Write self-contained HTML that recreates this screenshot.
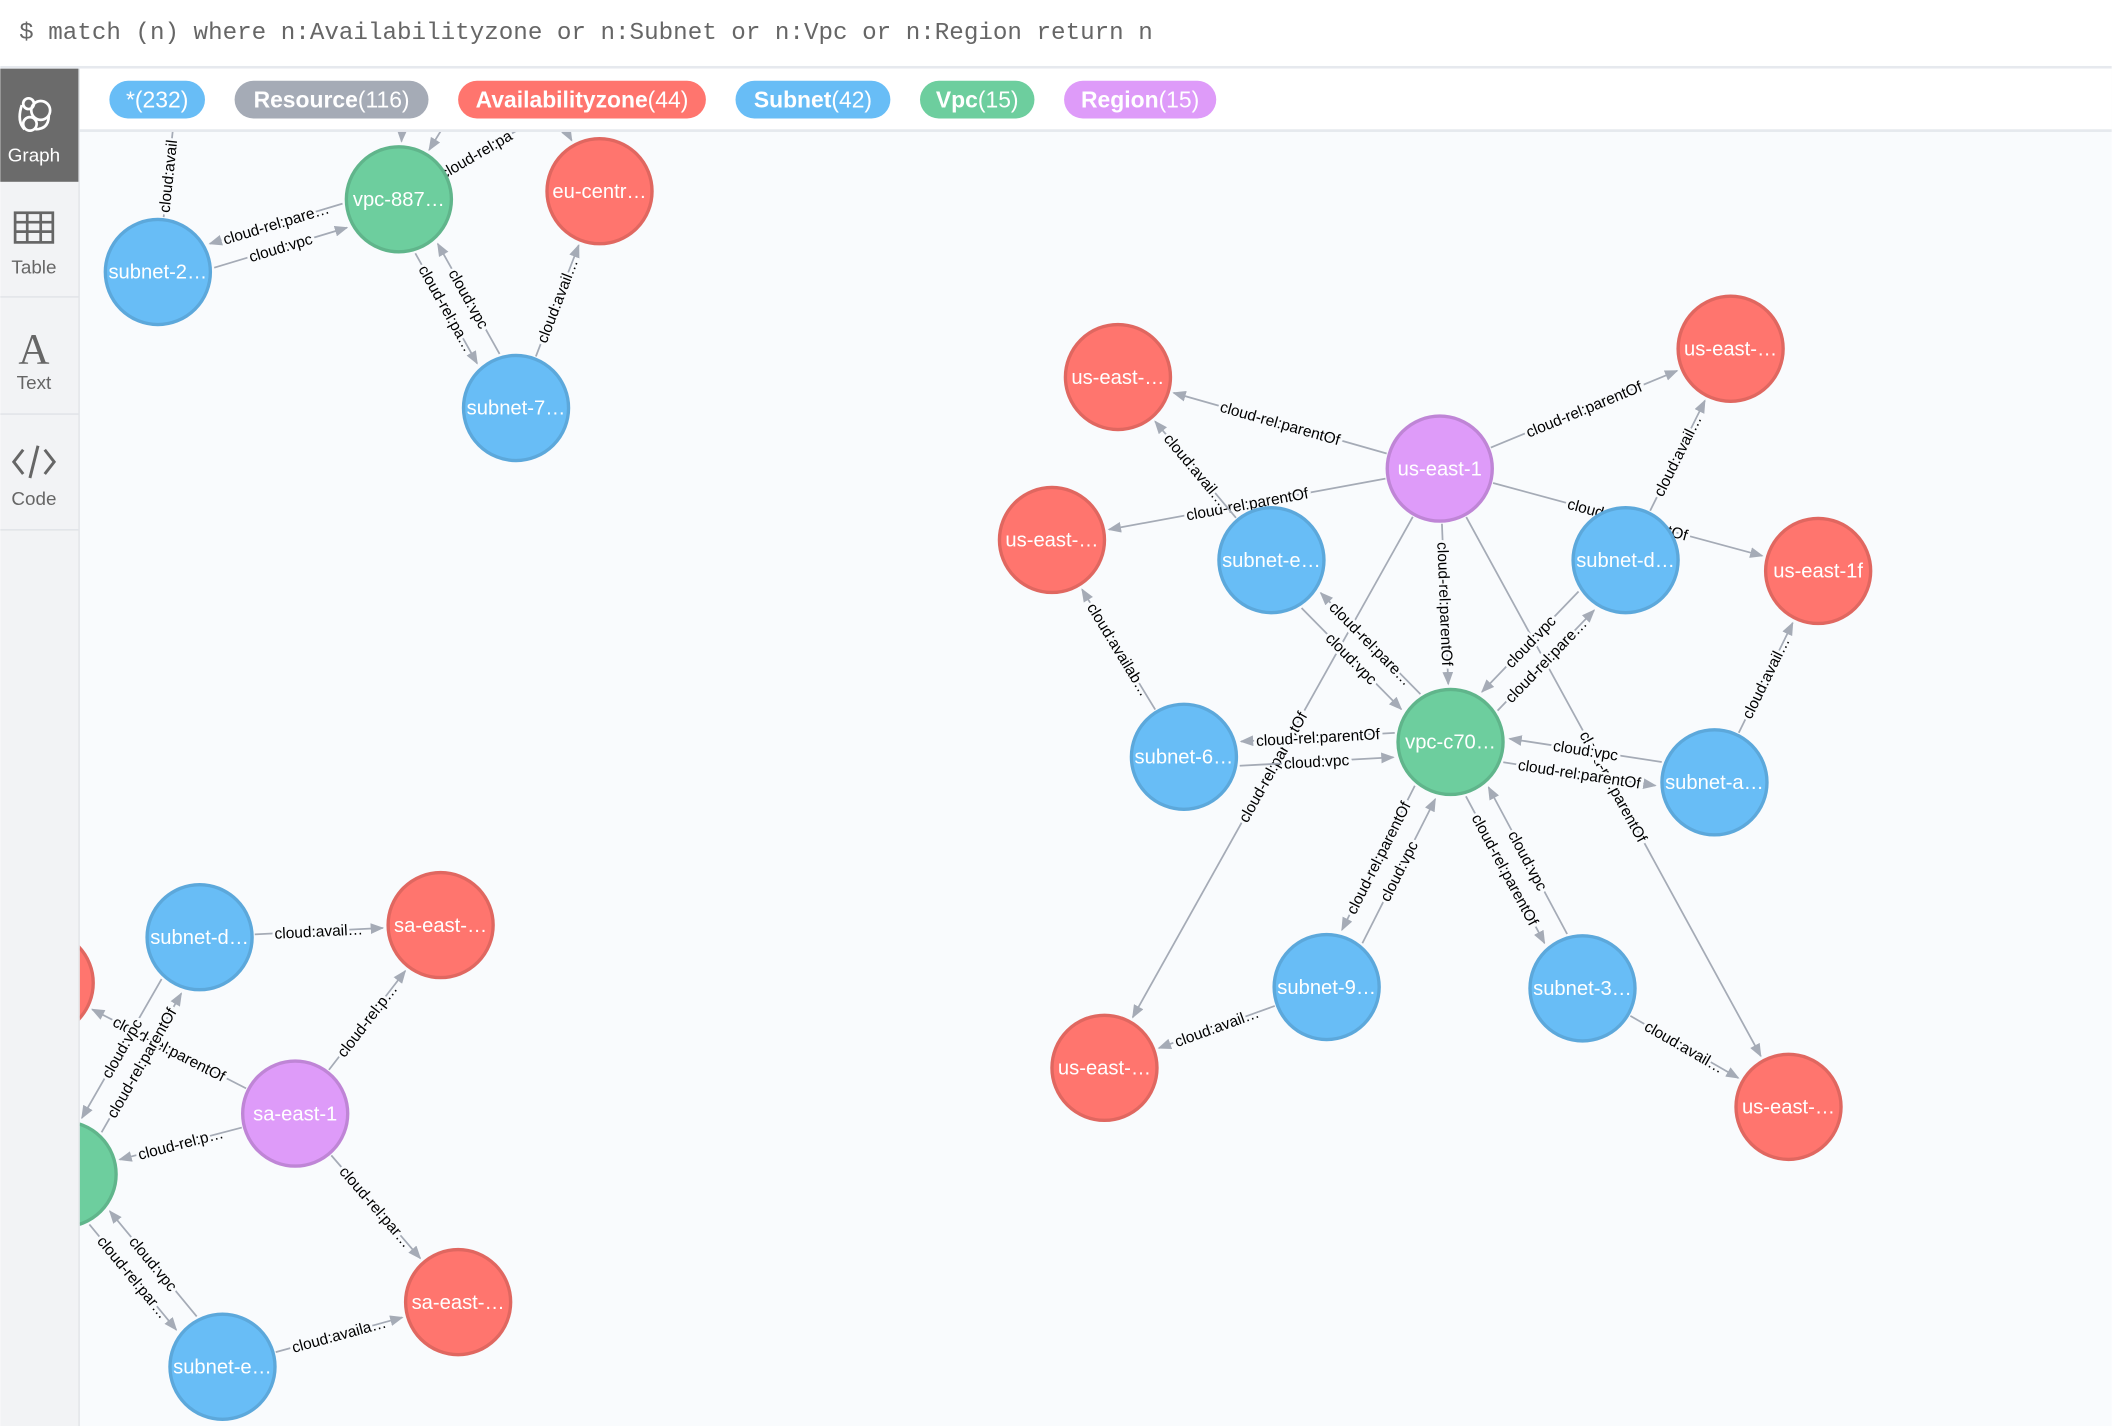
<!DOCTYPE html>
<html><head><meta charset="utf-8"><style>
html,body{margin:0;padding:0;background:#fff;width:2112px;height:1426px;overflow:hidden}
svg{display:block}
</style></head><body>
<svg id="s" width="2112" height="1426" viewBox="0 0 1568 1059" xmlns="http://www.w3.org/2000/svg" font-family="Liberation Sans, sans-serif">
<defs><marker id="ar" markerWidth="10" markerHeight="8" refX="9" refY="4" orient="auto" markerUnits="userSpaceOnUse"><path d="M0,0 L10,4 L0,8 z" fill="#a5abb6"/></marker>
<clipPath id="cv"><rect x="59" y="51" width="1509" height="1008"/></clipPath></defs>
<rect x="0" y="0" width="1568" height="1059" fill="#fff"/>
<text x="14" y="29" font-family="Liberation Mono, monospace" font-size="18" fill="#666">$ match (n) where n:Availabilityzone or n:Subnet or n:Vpc or n:Region return n</text>
<rect x="0" y="49" width="1568" height="2" fill="#e6e9ee"/>
<rect x="58" y="51" width="1510" height="1008" fill="#f9fbfd"/>
<g id="edges" clip-path="url(#cv)"></g>
<g id="nodes" clip-path="url(#cv)"></g>
<rect x="58" y="51" width="1510" height="46" fill="#fff"/>
<rect x="58" y="96" width="1510" height="2" fill="#e6e9ee"/>
<g font-size="17" fill="#fff">
<rect x="81" y="60" width="71" height="28" rx="14" fill="#68bdf6"/><text x="116.5" y="80" text-anchor="middle">*(232)</text>
<rect x="174" y="60" width="144" height="28" rx="14" fill="#a5abb6"/><text x="246" y="80" text-anchor="middle"><tspan font-weight="bold">Resource</tspan>(116)</text>
<rect x="340" y="60" width="184" height="28" rx="14" fill="#ff756e"/><text x="432" y="80" text-anchor="middle"><tspan font-weight="bold">Availabilityzone</tspan>(44)</text>
<rect x="546" y="60" width="115" height="28" rx="14" fill="#68bdf6"/><text x="603.5" y="80" text-anchor="middle"><tspan font-weight="bold">Subnet</tspan>(42)</text>
<rect x="683" y="60" width="85" height="28" rx="14" fill="#6dce9e"/><text x="725.5" y="80" text-anchor="middle"><tspan font-weight="bold">Vpc</tspan>(15)</text>
<rect x="790" y="60" width="113" height="28" rx="14" fill="#de9bf9"/><text x="846.5" y="80" text-anchor="middle"><tspan font-weight="bold">Region</tspan>(15)</text>
</g>
<rect x="0" y="51" width="58" height="1008" fill="#f2f3f5"/>
<rect x="58" y="51" width="1" height="1008" fill="#dfe2e6"/>
<rect x="0" y="51" width="58" height="84" fill="#6b6b6b"/>
<g fill="none" stroke="#fff" stroke-width="2"><circle cx="21" cy="77" r="4"/><circle cx="30" cy="82" r="7"/><circle cx="22" cy="92" r="5"/><path d="M16,78 Q12,90 18,96 M36,86 Q36,96 26,96"/></g>
<text x="25" y="120" text-anchor="middle" font-size="14" fill="#fff">Graph</text>
<rect x="0" y="220" width="58" height="1" fill="#dfe2e6"/><rect x="0" y="307" width="58" height="1" fill="#dfe2e6"/><rect x="0" y="393" width="58" height="1" fill="#dfe2e6"/>
<g fill="none" stroke="#666" stroke-width="2"><rect x="11" y="158" width="28" height="22"/><path d="M11,165 H39 M11,172 H39 M20,158 V180 M30,158 V180"/></g>
<text x="25" y="203" text-anchor="middle" font-size="14" fill="#666">Table</text>
<text x="25" y="270" text-anchor="middle" font-size="32" font-family="Liberation Serif, serif" fill="#666">A</text>
<text x="25" y="289" text-anchor="middle" font-size="14" fill="#666">Text</text>
<g fill="none" stroke="#666" stroke-width="2.2"><path d="M17,334 L10,343 L17,352 M33,334 L40,343 L33,352 M28,331 L22,355"/></g>
<text x="25" y="375" text-anchor="middle" font-size="14" fill="#666">Code</text>
</svg>
<script>
var N={
v887:[296,148,'g','vpc-887…'],euc:[445,142,'r','eu-centr…'],s2:[117,202,'b','subnet-2…'],s7:[383,303,'b','subnet-7…'],
t1:[300,60,'x',''],t2:[350,60,'x',''],t3:[400,60,'x',''],t4:[132,60,'x',''],t5:[430,70,'x',''],
ue1:[1069,348,'p','us-east-1'],r1:[830,280,'r','us-east-…'],r2:[1285,259,'r','us-east-…'],r3:[781,401,'r','us-east-…'],r4:[1350,424,'r','us-east-1f'],r5:[820,793,'r','us-east-…'],r6:[1328,822,'r','us-east-…'],
se:[944,416,'b','subnet-e…'],sd:[1207,416,'b','subnet-d…'],s6:[879,562,'b','subnet-6…'],vc:[1077,551,'g','vpc-c70…'],sa:[1273,581,'b','subnet-a…'],s9:[985,733,'b','subnet-9…'],s3:[1175,734,'b','subnet-3…'],
bsd:[148,696,'b','subnet-d…'],sae1:[327,687,'r','sa-east-…'],lr:[30,730,'r',''],sa1:[219,827,'p','sa-east-1'],lg:[47,872,'g','e…'],sae2:[340,967,'r','sa-east-…'],bse:[165,1015,'b','subnet-e…']};
var C={b:['#68bdf6','#5ca8db'],g:['#6dce9e','#60b58b'],r:['#ff756e','#e06760'],p:['#de9bf9','#bf85d6']};
var E=[
['s2','t4','cloud:avail',0.3],['v887','s2','cloud-rel:pare…'],['s2','v887','cloud:vpc'],['v887','s7','cloud-rel:pa…'],['s7','v887','cloud:vpc'],['s7','euc','cloud:avail…'],['t3','euc',''],['t1','v887',''],['t2','v887',''],['v887','t5','cloud-rel:pa',0.22],
['ue1','r1','cloud-rel:parentOf'],['ue1','r2','cloud-rel:parentOf'],['ue1','r3','cloud-rel:parentOf'],['ue1','r4','cloud-rel:parentOf'],['ue1','vc','cloud-rel:parentOf'],['ue1','r5','cloud-rel:parentOf'],['ue1','r6','cloud-rel:parentOf'],
['se','r1','cloud:avail…'],['sd','r2','cloud:avail…'],['s6','r3','cloud:availab…'],['sa','r4','cloud:avail…'],['s9','r5','cloud:avail…'],['s3','r6','cloud:avail…'],
['se','vc','cloud:vpc'],['vc','se','cloud-rel:pare…'],['vc','sd','cloud-rel:pare…'],['sd','vc','cloud:vpc'],['vc','s6','cloud-rel:parentOf'],['s6','vc','cloud:vpc'],['sa','vc','cloud:vpc'],['vc','sa','cloud-rel:parentOf'],['vc','s9','cloud-rel:parentOf'],['s9','vc','cloud:vpc'],['vc','s3','cloud-rel:parentOf'],['s3','vc','cloud:vpc'],
['bsd','sae1','cloud:avail…'],['sa1','sae1','cloud-rel:p…'],['sa1','lr','cloud-rel:parentOf'],['sa1','lg','cloud-rel:p…'],['sa1','sae2','cloud-rel:par…'],['bsd','lg','cloud:vpc'],['lg','bsd','cloud-rel:parentOf'],['bse','lg','cloud:vpc'],['lg','bse','cloud-rel:par…'],['bse','sae2','cloud:availa…']];
var ns='http://www.w3.org/2000/svg',eg=document.getElementById('edges'),ng=document.getElementById('nodes');
function mk(t,a,p){var e=document.createElementNS(ns,t);for(var k in a)e.setAttribute(k,a[k]);p.appendChild(e);return e;}
var pairs={};E.forEach(function(e){pairs[e[0]+'|'+e[1]]=1;});
E.forEach(function(e){
var a=N[e[0]],b=N[e[1]];var dx=b[0]-a[0],dy=b[1]-a[1],L=Math.hypot(dx,dy),ux=dx/L,uy=dy/L;
var off=0;if(pairs[e[1]+'|'+e[0]])off=9;
var px=-uy*off,py=ux*off;
var ra=a[2]=='x'?0:41,rb=b[2]=='x'?0:43;
var x1=a[0]+ux*ra+px,y1=a[1]+uy*ra+py,x2=b[0]-ux*rb+px,y2=b[1]-uy*rb+py;
mk('line',{x1:x1,y1:y1,x2:x2,y2:y2,stroke:'#a5abb6','stroke-width':1.3,'marker-end':'url(#ar)'},eg);
if(e[2]){var f=e[3]||0.5;var mx=x1+(x2-x1)*f,my=y1+(y2-y1)*f,ang=Math.atan2(dy,dx)*180/Math.PI;if(ang>90)ang-=180;if(ang<-90)ang+=180;
var t=mk('text',{x:mx,y:my+4,'text-anchor':'middle','font-size':11.5,fill:'#000',stroke:'#f9fbfd','stroke-width':4,'paint-order':'stroke',transform:'rotate('+ang+' '+mx+' '+my+')'},eg);t.textContent=e[2];}
});
for(var k in N){var n=N[k];if(n[2]=='x')continue;var c=C[n[2]];
mk('circle',{cx:n[0],cy:n[1],r:39,fill:c[0],stroke:c[1],'stroke-width':2.5},ng);
var t=mk('text',{x:n[0],y:n[1]+5,'text-anchor':'middle','font-size':15,fill:'#fff'},ng);t.textContent=n[3];}
</script>
</body></html>
